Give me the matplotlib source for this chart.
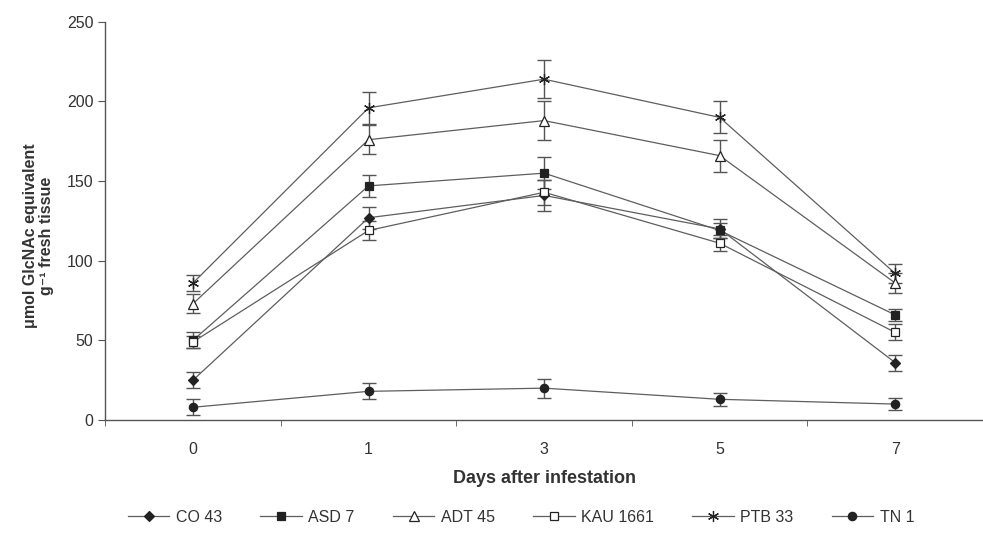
import matplotlib
matplotlib.use("Agg")
import matplotlib.pyplot as plt
import numpy as np

plt.rcParams['font.family'] = ['Liberation Sans', 'DejaVu Sans']

days = ["0", "1", "3", "5", "7"]
series_names = ["CO 43", "ASD 7", "ADT 45", "KAU 1661", "PTB 33", "TN 1"]
co43 = [25, 127, 141, 120, 36]
asd7 = [50, 147, 155, 119, 66]
adt45 = [73, 176, 188, 166, 86]
kau1661 = [49, 119, 143, 111, 55]
ptb33 = [86, 196, 214, 190, 92]
tn1 = [8, 18, 20, 13, 10]
co43_err = [5, 7, 10, 6, 5]
asd7_err = [5, 7, 10, 5, 4]
adt45_err = [6, 9, 12, 10, 6]
kau1661_err = [4, 6, 8, 5, 5]
ptb33_err = [5, 10, 12, 10, 6]
tn1_err = [5, 5, 6, 4, 4]

values = [co43, asd7, adt45, kau1661, ptb33, tn1]
errors = [co43_err, asd7_err, adt45_err, kau1661_err, ptb33_err, tn1_err]
# marker, face colour, size
styles = [("D", "#222222", 5), ("s", "#222222", 6), ("^", "white", 7),
          ("s", "white", 6), ((6, 2, 0), "#222222", 8), ("o", "#222222", 6)]

fig = plt.figure(figsize=(9.83, 5.33), dpi=100)
ax = fig.add_axes([0.107, 0.212, 0.893, 0.747])

x = np.arange(len(days))
handles = []
for name, vals, err, (mk, fc, ms) in zip(series_names, values, errors, styles):
    ax.errorbar(x, vals, yerr=err, fmt="none", ecolor="#555555", elinewidth=1.0,
                capsize=5, capthick=1.0, zorder=2)
    h, = ax.plot(x, vals, color="#5e5e5e", linewidth=0.9, marker=mk, markersize=ms,
                 markerfacecolor=fc, markeredgecolor="#222222", markeredgewidth=0.9,
                 label=name, zorder=3)
    handles.append(h)

ax.set_xlim(-0.5, len(days) - 0.5)
ax.set_ylim(0, 250)
ax.set_yticks([0, 50, 100, 150, 200, 250])
ax.set_xticks(x)
ax.set_xticklabels(days)
ax.set_xticks(np.arange(len(days) + 1) - 0.5, minor=True)
ax.tick_params(axis="x", which="major", length=0, pad=16, labelsize=11.5, colors="#333333")
ax.tick_params(axis="x", which="minor", length=4, direction="out", color="#555555")
ax.tick_params(axis="y", length=5, direction="out", labelsize=11.5, colors="#333333",
               color="#555555")

for s in ["top", "right"]:
    ax.spines[s].set_visible(False)
for s in ["left", "bottom"]:
    ax.spines[s].set_color("#555555")
    ax.spines[s].set_linewidth(1.0)

ax.set_xlabel("Days after infestation", fontsize=13, fontweight="bold", color="#333333",
              labelpad=9)
ax.set_ylabel("\u03bcmol GlcNAc equivalent\ng\u207b\u00b9 fresh tissue", fontsize=11.5,
              fontweight="bold", color="#333333", linespacing=1.1)
ax.yaxis.set_label_coords(-0.058, 0.462)

fig.legend(handles=handles, labels=series_names, loc="center", ncol=6,
           bbox_to_anchor=(0.53, 0.03), frameon=False, fontsize=11.5,
           handlelength=2.6, columnspacing=2.4, handletextpad=0.4,
           labelcolor="#333333")

fig.savefig("out.png", dpi=100)
